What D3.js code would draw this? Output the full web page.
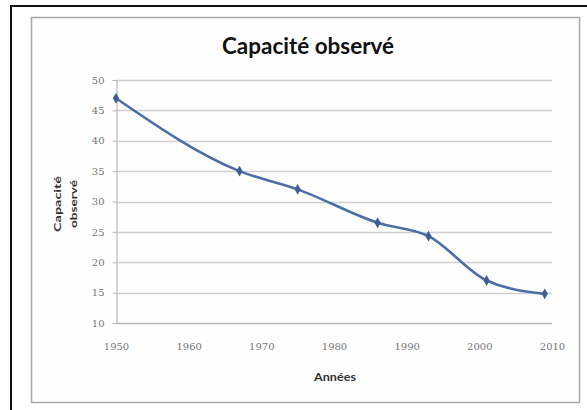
<!DOCTYPE html>
<html>
<head>
<meta charset="utf-8">
<script src="https://cdn.jsdelivr.net/npm/d3@7"></script>
<style>
  body { margin: 0; background: #fff; }
  svg { display: block; }
</style>
</head>
<body>
<div id="chart"></div>
<script>
// data
const years = [1950, 1967, 1975, 1986, 1993, 2001, 2009];
const capacity = [47, 35, 32, 26.5, 24.3, 17, 14.8];
const yTicks = [10, 15, 20, 25, 30, 35, 40, 45, 50];
const xTicks = [1950, 1960, 1970, 1980, 1990, 2000, 2010];

const title = "Capacité observé";
const yTitle = ["Capacité", "observé"];
const xTitle = "Années";

const W = 587, H = 410;
const plot = { left: 116, right: 552, top: 80, bottom: 323 };

const COLORS = {
    line: "#4a6fa8",
    marker: "#3f5f95",
    grid: "#d0d0d0",
    axis: "#b8b8b8",
    tick: "#777",
    frame: "#a8a8a8"
};

const svg = d3.select("#chart")
    .append("svg")
    .attr("width", W)
    .attr("height", H);

// outer black frame (runs off the right/bottom edge)
svg.append("rect")
    .attr("x", 11).attr("y", 6)
    .attr("width", W).attr("height", H)
    .attr("fill", "#fff")
    .attr("stroke", "#111")
    .attr("stroke-width", 2);

// chart area frame
svg.append("rect")
    .attr("x", 31.5).attr("y", 17.5)
    .attr("width", 548).attr("height", 385)
    .attr("fill", "#fefefe")
    .attr("stroke", COLORS.frame)
    .attr("stroke-width", 1.5);

const x = d3.scaleLinear().domain([1950, 2010]).range([plot.left, plot.right]);
const y = d3.scaleLinear().domain([10, 50]).range([plot.bottom, plot.top]);

// gridlines
svg.append("g")
    .selectAll("line")
    .data(yTicks)
    .enter()
    .append("line")
    .attr("x1", plot.left).attr("x2", plot.right)
    .attr("y1", d => Math.round(y(d)) + 0.5)
    .attr("y2", d => Math.round(y(d)) + 0.5)
    .attr("stroke", d => d === 10 ? COLORS.axis : COLORS.grid)
    .attr("stroke-width", 1.5);

// y axis
const yAxis = svg.append("g")
    .attr("transform", `translate(${plot.left + 0.5},0)`)
    .call(d3.axisLeft(y).tickValues(yTicks).tickSize(4).tickPadding(8));
// x axis
const xAxis = svg.append("g")
    .attr("transform", `translate(0,${plot.bottom + 0.5})`)
    .call(d3.axisBottom(x).tickValues(xTicks).tickFormat(d3.format("d")).tickSize(0).tickPadding(19));

[yAxis, xAxis].forEach(a => {
    a.select(".domain").attr("stroke", COLORS.axis).attr("stroke-width", 1.2);
    a.selectAll(".tick line").attr("stroke", COLORS.axis);
    a.selectAll(".tick text")
        .attr("fill", COLORS.tick)
        .style("font-family", "'DejaVu Serif', serif")
        .style("font-size", "10px");
});
xAxis.select(".domain").remove();

// series line
const line = d3.line()
    .x((d, i) => x(years[i]))
    .y(d => y(d))
    .curve(d3.curveMonotoneX);

svg.append("path")
    .datum(capacity)
    .attr("d", line)
    .attr("fill", "none")
    .attr("stroke", COLORS.line)
    .attr("stroke-width", 2.6)
    .attr("stroke-linejoin", "round");

// diamond markers
svg.append("g")
    .selectAll("path")
    .data(capacity)
    .enter()
    .append("path")
    .attr("d", d3.symbol().type(d3.symbolDiamond).size(34))
    .attr("transform", (d, i) => `translate(${x(years[i])},${y(d)})`)
    .attr("fill", COLORS.marker);

// titles
svg.append("text")
    .attr("x", 308).attr("y", 54)
    .attr("text-anchor", "middle")
    .attr("textLength", 172)
    .attr("lengthAdjust", "spacingAndGlyphs")
    .style("font-family", "Lato, 'Open Sans', sans-serif")
    .style("font-weight", "bold")
    .style("font-size", "22px")
    .attr("fill", "#111")
    .text(title);

svg.append("text")
    .attr("x", 335).attr("y", 381)
    .attr("text-anchor", "middle")
    .attr("textLength", 42)
    .attr("lengthAdjust", "spacingAndGlyphs")
    .style("font-family", "Lato, sans-serif")
    .style("font-weight", "bold")
    .style("font-size", "11px")
    .attr("fill", "#333")
    .text(xTitle);

const yt = svg.append("text")
    .attr("transform", "translate(60.5,204) rotate(-90)")
    .attr("text-anchor", "middle")
    .style("font-family", "Lato, sans-serif")
    .style("font-weight", "bold")
    .style("font-size", "10px")
    .attr("fill", "#333");
yt.selectAll("tspan")
    .data(yTitle)
    .enter()
    .append("tspan")
    .attr("x", 0)
    .attr("dy", (d, i) => i === 0 ? 0 : 16)
    .attr("textLength", (d, i) => i === 0 ? 56 : 48)
    .attr("lengthAdjust", "spacingAndGlyphs")
    .text(d => d);
</script>
</body>
</html>
